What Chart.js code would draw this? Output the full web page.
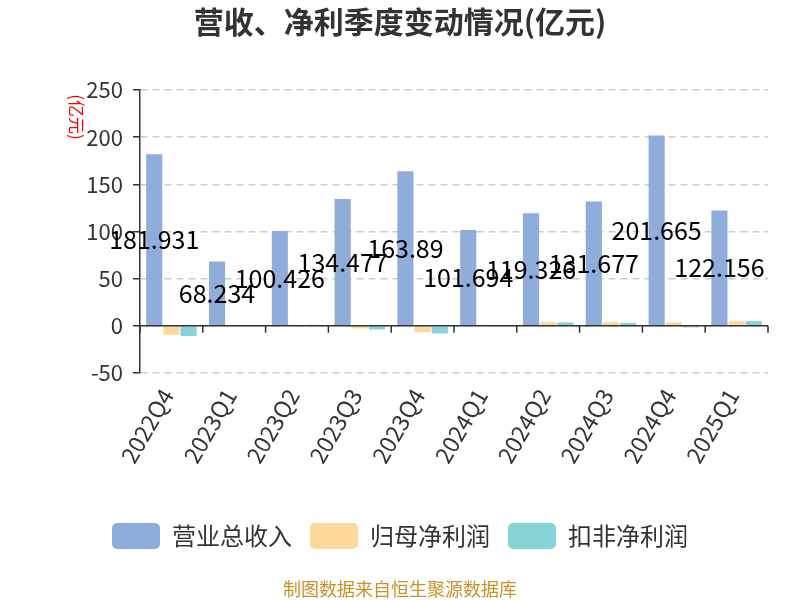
<!DOCTYPE html>
<html>
<head>
<meta charset="utf-8">
<script src="https://cdn.jsdelivr.net/npm/chart.js@4/dist/chart.umd.min.js"></script>
<style>
  html, body { margin: 0; padding: 0; background: #fff; }
  #wrap { width: 800px; height: 600px; position: relative; }
</style>
</head>
<body>
<div id="wrap"><canvas id="chart"></canvas></div>
<script>
// ── Data ─────────────────────────────────────────────────────
const quarters   = ['2022Q4', '2023Q1', '2023Q2', '2023Q3', '2023Q4', '2024Q1', '2024Q2', '2024Q3', '2024Q4', '2025Q1'];
const revenue    = [181.931, 68.234, 100.426, 134.477, 163.89, 101.694, 119.326, 131.677, 201.665, 122.156];
const netProfit  = [-9.5, 0.8, 1.0, -2.8, -6.7, 1.0, 3.9, 3.9, 3.8, 5.0];
const netDeduct  = [-10.8, 0.3, 1.0, -3.9, -8.1, 0.6, 3.6, 3.2, -1.6, 5.0];
const yTicks     = [-50, 0, 50, 100, 150, 200, 250];

const FONT = '"Noto Sans CJK SC", "Noto Sans", sans-serif';

// ── Custom drawing: title, unit, footer, zero line, value labels ──
const decorPlugin = {
  id: 'decor',
  afterDatasetsDraw(chart) {
    const { ctx, scales: { x, y } } = chart;
    const zeroY = y.getPixelForValue(0);

    // zero line with category tick marks
    ctx.save();
    ctx.strokeStyle = '#333';
    ctx.lineWidth = 1.5;
    ctx.beginPath();
    ctx.moveTo(x.left, zeroY);
    ctx.lineTo(x.right, zeroY);
    for (let i = 0; i <= quarters.length; i++) {
      const px = x.left + (x.right - x.left) * i / quarters.length;
      ctx.moveTo(px, zeroY);
      ctx.lineTo(px, zeroY + 7);
    }
    ctx.stroke();

    // value labels on revenue bars (middle of bar)
    ctx.fillStyle = '#000';
    ctx.font = '25px ' + FONT;
    ctx.textAlign = 'center';
    ctx.textBaseline = 'middle';
    chart.getDatasetMeta(0).data.forEach((bar, i) => {
      ctx.fillText(String(revenue[i]), bar.x, (bar.y + bar.base) / 2);
    });
    ctx.restore();
  },
  afterDraw(chart) {
    const { ctx } = chart;
    ctx.save();
    ctx.textAlign = 'center';
    ctx.textBaseline = 'middle';

    ctx.fillStyle = '#333';
    ctx.font = 'bold 30px ' + FONT;
    ctx.fillText('营收、净利季度变动情况(亿元)', 400, 22);

    ctx.fillStyle = '#c9922a';
    ctx.font = '18px ' + FONT;
    ctx.fillText('制图数据来自恒生聚源数据库', 400, 589);

    // unit label
    ctx.translate(76, 117);
    ctx.rotate(Math.PI / 2);
    ctx.fillStyle = '#f00';
    ctx.font = '17px ' + FONT;
    ctx.fillText('(亿元)', 0, 0);
    ctx.restore();
  }
};

new Chart(document.getElementById('chart'), {
  type: 'bar',
  data: {
    labels: quarters,
    datasets: [
      { label: '营业总收入', data: revenue,   backgroundColor: '#8faddb' },
      { label: '归母净利润', data: netProfit, backgroundColor: '#fdd89b' },
      { label: '扣非净利润', data: netDeduct, backgroundColor: '#86d4d8' }
    ]
  },
  options: {
    responsive: true,
    maintainAspectRatio: false,
    animation: false,
    categoryPercentage: 0.82,
    barPercentage: 0.94,
    layout: { padding: { top: 90, right: 0, bottom: 41, left: 0 } },
    plugins: {
      title: { display: false },
      tooltip: { enabled: false },
      legend: {
        position: 'bottom',
        labels: {
          font: { family: FONT, size: 24 },
          color: '#333',
          boxWidth: 48,
          boxHeight: 26,
          useBorderRadius: true,
          borderRadius: 5,
          padding: 18
        }
      }
    },
    scales: {
      x: {
        grid: { display: false },
        border: { display: false },
        ticks: {
          font: { family: FONT, size: 23 },
          color: '#333',
          maxRotation: 60,
          minRotation: 60,
          labelOffset: -4,
          autoSkip: false
        },
        afterFit(scale) { scale.height = 132; }
      },
      y: {
        min: -50,
        max: 250,
        afterBuildTicks(scale) { scale.ticks = yTicks.map(v => ({ value: v })); },
        grid: {
          color: '#cccccc',
          lineWidth: 1.5,
          tickColor: '#333',
          tickLength: 7,
          tickWidth: 1.5,
          tickBorderDash: []
        },
        border: { display: true, color: '#333', width: 1.5, dash: [7, 5] },
        ticks: {
          font: { family: FONT, size: 22 },
          color: '#333',
          padding: 10
        },
        afterFit(scale) { scale.width = 140; }
      },
      // empty spacer on the right so the plot ends near x=768
      yRight: {
        position: 'right',
        grid: { display: false, drawTicks: false },
        border: { display: false },
        ticks: { display: false },
        afterFit(scale) { scale.width = 32; }
      }
    }
  },
  plugins: [decorPlugin]
});
</script>
</body>
</html>
